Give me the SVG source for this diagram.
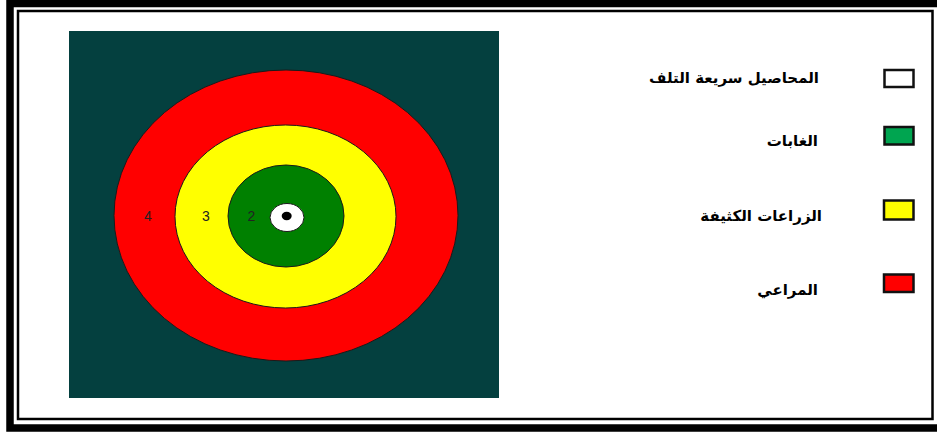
<svg xmlns="http://www.w3.org/2000/svg" width="937" height="435" viewBox="0 0 937 435">
<style>
.ring{stroke:#1a1a1a;stroke-width:1}
.num{font-family:"Liberation Sans",Arial,sans-serif;font-size:14px;fill:#222}
.lbl{font-family:"DejaVu Sans","Liberation Sans",sans-serif;font-size:15px;font-weight:bold;fill:#000}
.key{stroke:#111;stroke-width:2.5}
</style>
<rect width="937" height="435" fill="#fff"/>
<g id="frame">
<rect x="10" y="3.5" width="940" height="424.5" fill="none" stroke="#000" stroke-width="7.5"/>
<rect x="18" y="11" width="914.5" height="408" fill="none" stroke="#000" stroke-width="2.5"/>
</g>
<g id="map">
<rect x="69" y="31" width="430" height="367" fill="#04403F"/>
<ellipse id="ring4" class="ring" cx="286" cy="215.5" rx="172" ry="145.5" fill="#FF0000"/>
<ellipse id="ring3" class="ring" cx="285.5" cy="216.5" rx="110.5" ry="91.5" fill="#FFFF00"/>
<ellipse id="ring2" class="ring" cx="286" cy="216" rx="58" ry="51" fill="#008000"/>
<ellipse id="ring1" class="ring" cx="287" cy="217.5" rx="17" ry="14" fill="#fff"/>
<ellipse cx="286.7" cy="216" rx="5" ry="4.2" fill="#000"/>
<text class="num" x="148" y="220.7" text-anchor="middle">4</text>
<text class="num" x="206" y="220.7" text-anchor="middle">3</text>
<text class="num" x="251.5" y="220.7" text-anchor="middle">2</text>
</g>
<g id="legend-white">
<rect class="key" x="884.5" y="70" width="29" height="17" fill="#fff"/>
<text class="lbl" x="819" y="83" text-anchor="end">المحاصيل سريعة التلف</text>
</g>
<g id="legend-green">
<rect class="key" x="884.5" y="127" width="29" height="17.5" fill="#00A550"/>
<text class="lbl" x="818" y="146" text-anchor="end">الغابات</text>
</g>
<g id="legend-yellow">
<rect class="key" x="884" y="200.5" width="29.5" height="19" fill="#FFFF00"/>
<text class="lbl" x="822" y="221" text-anchor="end">الزراعات الكثيفة</text>
</g>
<g id="legend-red">
<rect class="key" x="884" y="274.5" width="29.5" height="17.5" fill="#FF0000"/>
<text class="lbl" x="818" y="295" text-anchor="end">المراعي</text>
</g>
</svg>
